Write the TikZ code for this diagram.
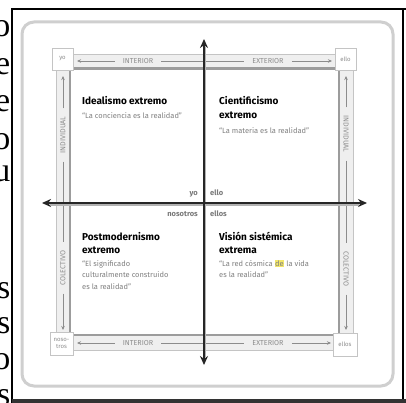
\documentclass[tikz,border=0pt]{standalone}
\usepackage{fontspec}
\setmainfont{Fira Sans}
\newfontfamily\bodyserif{Liberation Serif}
\usetikzlibrary{arrows.meta}
\definecolor{roundgray}{HTML}{CFCFCF}
\definecolor{barfill}{HTML}{EFEFEF}
\definecolor{barline}{HTML}{C4C4C4}
\definecolor{barinner}{HTML}{9C9C9C}
\definecolor{bartext}{HTML}{8C8C8C}
\definecolor{quotegray}{HTML}{808080}
\definecolor{centergray}{HTML}{787878}
\definecolor{hlyellow}{HTML}{F2E66A}
\begin{document}
\begin{tikzpicture}[x=1pt,y=-1pt,
  serifletter/.style={anchor=base east,inner sep=0pt,font=\bodyserif\fontsize{34}{34}\selectfont},
  cornerbox/.style={draw=barline,fill=white,line width=0.8pt,inner sep=0pt,align=center,
    text=bartext,font=\fontsize{6}{6.5}\selectfont},
  barlabel/.style={text=bartext,font=\fontsize{7.2}{7.2}\selectfont,inner xsep=8pt,inner ysep=1pt},
  barconn/.style={draw=bartext,line width=0.6pt},
  bartip/.style={-{Stealth[length=4pt,width=3.5pt]}},
  axisunder/.style={draw=black!30,line width=4pt},
  axisline/.style={draw=black!85,line width=1.5pt,-{Stealth[length=9pt,width=8pt]}},
  heading/.style={anchor=base west,inner sep=0pt,font=\bfseries\fontsize{10}{12}\selectfont},
  quote/.style={anchor=base west,inner sep=0pt,text=quotegray,font=\fontsize{7.5}{9}\selectfont},
  centerlabel/.style={inner sep=0pt,text=centergray,font=\bfseries\fontsize{7.5}{9}\selectfont}]
\useasboundingbox (0,0) rectangle (406,403);
\clip (0,0) rectangle (406,403);
\fill[white] (0,0) rectangle (406,403);
% cut-off letters of the neighbouring page
\node[serifletter] (l1) at (10.5,37) {o};
\node[serifletter] (l2) at (10.5,75) {e};
\node[serifletter] (l3) at (10.5,112) {e};
\node[serifletter] (l4) at (10.5,150) {o};
\node[serifletter] (l5) at (10.5,182) {u};
\node[serifletter] (l6) at (10.5,298) {s};
\node[serifletter] (l7) at (10.5,333) {s};
\node[serifletter] (l8) at (10.5,369) {o};
\node[serifletter] (l9) at (10.5,405) {s};
% black frame
\draw[black,line width=2.5pt] (12,9) -- (12,403);
\draw[black,line width=2pt] (11,9) -- (406,9);
\draw[black,line width=2pt] (403,9) -- (403,403);
\draw[black!80,line width=4.5pt] (12,401) -- (406,401);
% rounded panel
\draw[roundgray,line width=3pt,rounded corners=12pt] (22,22) rectangle (393,386);
% bars
\fill[barfill] (72,54) rectangle (335,68.5);
\fill[barfill] (56,70) rectangle (70,332);
\fill[barfill] (339,70) rectangle (353,333);
\fill[barfill] (73,335) rectangle (333,350);
\draw[barline,line width=0.8pt] (72,54) -- (335,54);
\draw[barline,line width=0.8pt] (56,70) -- (56,332);
\draw[barline,line width=0.8pt] (353,70) -- (353,333);
\draw[barline,line width=0.8pt] (73,350) -- (333,350);
\draw[barinner,line width=2.2pt] (70,68.5) rectangle (339,335);
% corner boxes
\node[cornerbox,minimum width=21pt,minimum height=22pt] (yo) at (62.5,59) {yo};
\node[cornerbox,minimum width=21pt,minimum height=22pt] (ello) at (345.5,59) {ello};
\node[cornerbox,minimum width=23pt,minimum height=23pt] (nosotros) at (61.5,343.5) {noso-\\tros};
\node[cornerbox,minimum width=24pt,minimum height=23pt] (ellos) at (345,344.5) {ellos};
% top bar
\coordinate (ttl) at (77,61);
\coordinate (ttr) at (332,61);
\node[barlabel] (int1) at (138,61) {INTERIOR};
\node[barlabel] (ext1) at (268,61) {EXTERIOR};
\draw[barconn,bartip] (int1) -- (ttl);
\draw[barconn] (int1) -- (ext1);
\draw[barconn,bartip] (ext1) -- (ttr);
% bottom bar
\coordinate (tbl) at (77,343);
\coordinate (tbr) at (331,343);
\node[barlabel] (int2) at (138,343) {INTERIOR};
\node[barlabel] (ext2) at (268,343) {EXTERIOR};
\draw[barconn,bartip] (int2) -- (tbl);
\draw[barconn] (int2) -- (ext2);
\draw[barconn,bartip] (ext2) -- (tbr);
% left bar
\coordinate (tlt) at (63,76);
\coordinate (tlb) at (63,330);
\node[barlabel,rotate=90] (ind1) at (63,135) {INDIVIDUAL};
\node[barlabel,rotate=90] (col1) at (63,268) {COLECTIVO};
\draw[barconn,bartip] (ind1) -- (tlt);
\draw[barconn] (ind1) -- (col1);
\draw[barconn,bartip] (col1) -- (tlb);
% right bar
\coordinate (trt) at (346,76);
\coordinate (trb) at (346,330);
\node[barlabel,rotate=-90] (ind2) at (346,134) {INDIVIDUAL};
\node[barlabel,rotate=-90] (col2) at (346,269) {COLECTIVO};
\draw[barconn,bartip] (ind2) -- (trt);
\draw[barconn] (ind2) -- (col2);
\draw[barconn,bartip] (col2) -- (trb);
% axes
\coordinate (axL) at (42,203);
\coordinate (axR) at (367,203);
\coordinate (axT) at (204,39);
\coordinate (axB) at (204,365);
\draw[axisunder] (50,203.5) -- (359,203.5);
\draw[axisunder,line width=3pt] (204,47) -- (204,357);
\draw[axisline] (204,203) -- (axL);
\draw[axisline] (204,203) -- (axR);
\draw[axisline] (204,203) -- (axT);
\draw[axisline] (204,203) -- (axB);
% centre labels
\node[centerlabel,anchor=base east] (cyo) at (198,195) {yo};
\node[centerlabel,anchor=base west] (cello) at (210,195) {ello};
\node[centerlabel,anchor=base east] (cnos) at (198,216) {nosotros};
\node[centerlabel,anchor=base west] (cellos) at (210,216) {ellos};
% quadrant texts
\node[heading] (h1) at (82,105) {Idealismo extremo};
\node[quote] (q1) at (82,119) {“La conciencia es la realidad”};
\node[heading] (h2a) at (219,105) {Cientificismo};
\node[heading] (h2b) at (219,118.5) {extremo};
\node[quote] (q2) at (219,134) {“La materia es la realidad”};
\node[heading] (h3a) at (82,240) {Postmodernismo};
\node[heading] (h3b) at (82,253) {extremo};
\node[quote] (q3a) at (82,266) {“El significado};
\node[quote] (q3b) at (82,277.5) {culturalmente construido};
\node[quote] (q3c) at (82,289) {es la realidad”};
\node[heading] (h4a) at (219,240) {Visión sistémica};
\node[heading] (h4b) at (219,253) {extrema};
\node[quote] (q4a) at (219,266) {“La red cósmica {\setlength{\fboxsep}{0.6pt}\colorbox{hlyellow}{de}} la vida};
\node[quote] (q4b) at (219,277.5) {es la realidad”};
\end{tikzpicture}
\end{document}
